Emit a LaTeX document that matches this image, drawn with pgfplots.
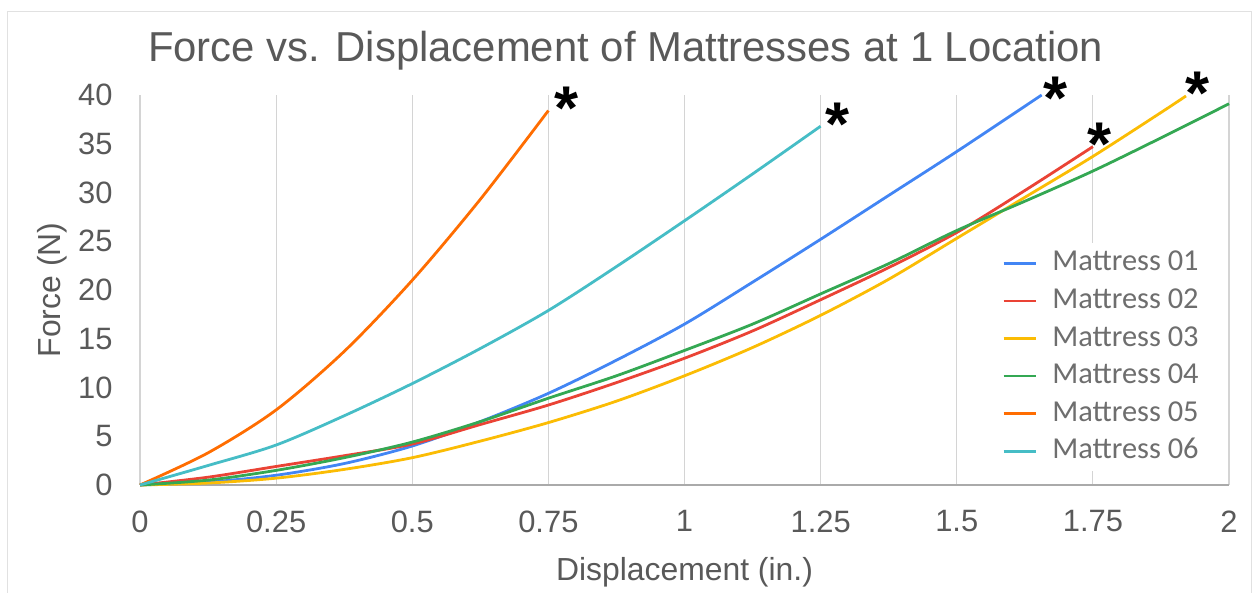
\documentclass[border=0pt]{standalone}
\usepackage{fontspec}
\setmainfont{Liberation Sans}
\newfontfamily\carlito{Carlito}
\usepackage{pgfplots}
\pgfplotsset{compat=1.18}
\usepackage{pgfplotstable}

\definecolor{cblue}{HTML}{4285F4}
\definecolor{cred}{HTML}{EA4335}
\definecolor{cyellow}{HTML}{FBBC04}
\definecolor{cgreen}{HTML}{34A853}
\definecolor{corange}{HTML}{FF6D01}
\definecolor{ccyan}{HTML}{46BDC6}
\definecolor{txt}{HTML}{595959}
\definecolor{legtxt}{HTML}{6E6E6E}
\definecolor{gridc}{HTML}{D4D4D4}

% force (N) against displacement (in.)
\pgfplotstableread{
x y
0 0
0.125 0.3
0.25 1.0
0.375 2.2
0.5 4.0
0.625 6.5
0.75 9.4
0.875 12.8
1.0 16.5
1.125 20.8
1.25 25.2
1.375 29.7
1.5 34.2
1.656 40.0
}\mone
\pgfplotstableread{
x y
0 0
0.125 0.8
0.25 1.9
0.375 3.0
0.5 4.2
0.625 6.2
0.75 8.2
0.875 10.5
1.0 13.0
1.125 15.8
1.25 19.0
1.375 22.3
1.5 25.9
1.625 30.2
1.75 34.7
}\mtwo
\pgfplotstableread{
x y
0 0
0.125 0.2
0.25 0.7
0.375 1.6
0.5 2.8
0.625 4.5
0.75 6.4
0.875 8.6
1.0 11.2
1.125 14.1
1.25 17.4
1.375 21.1
1.5 25.3
1.625 29.5
1.75 33.7
1.875 38.2
1.921 39.9
}\mthree
\pgfplotstableread{
x y
0 0
0.125 0.5
0.25 1.5
0.375 2.8
0.5 4.4
0.625 6.5
0.75 8.9
0.875 11.2
1.0 13.8
1.125 16.5
1.25 19.6
1.375 22.7
1.5 26.1
1.625 29.1
1.75 32.2
1.875 35.6
2.0 39.1
}\mfour
\pgfplotstableread{
x y
0 0
0.125 3.3
0.25 7.7
0.375 13.7
0.5 21.0
0.625 29.3
0.75 38.4
}\mfive
\pgfplotstableread{
x y
0 0
0.125 2.0
0.25 4.1
0.375 7.1
0.5 10.4
0.625 14.0
0.75 17.9
0.875 22.4
1.0 27.1
1.125 31.9
1.25 36.8
}\msix

\begin{document}
\begin{tikzpicture}[x=1bp,y=1bp]
\begin{axis}[
    at={(140bp,108bp)}, anchor=south west,
    scale only axis,
    width=1089bp, height=390bp,
    xmin=0, xmax=2, ymin=0, ymax=40,
    xtick={0,0.25,...,2}, ytick={0,5,...,40},
    axis x line*=bottom, axis y line*=left,
    x axis line style={draw=gridc!80!black, line width=1.2bp},
    y axis line style={draw=none},
    major tick length=0pt,
    xmajorgrids, grid style={draw=gridc, line width=1.2bp},
    /pgf/number format/assume math mode=true,
    tick label style={font=\fontsize{31}{34}\selectfont, text=txt},
    xticklabel shift=22bp, yticklabel shift=24bp,
    title={Force vs. Displacement of Mattresses at 1 Location},
    title style={font=\fontsize{42}{46}\selectfont, text=txt, at={(0.446,1.097)}, anchor=center},
    xlabel={Displacement (in.)},
    xlabel style={font=\fontsize{32}{36}\selectfont, text=txt, at={(0.5,-0.225)}, anchor=center},
    ylabel={Force (N)},
    ylabel style={font=\fontsize{32}{36}\selectfont, text=txt, at={(-0.0808,0.5)}, anchor=center},
    legend image code/.code={\draw[#1, line width=2.6bp] (0bp,0bp) -- (32bp,0bp);},
    legend cell align=left,
    legend style={at={(0.787,0.62)}, anchor=north west, draw=none, fill=white,
        inner sep=5bp, column sep=14bp, row sep=7.6bp,
        font=\carlito\fontsize{30.5}{30.5}\selectfont, text=legtxt,
        nodes={inner sep=1.5bp, text height=21bp, text depth=6bp}},
    every axis plot/.append style={line width=2.8bp, smooth, no marks},
    clip=false,
]
\addplot[cblue] table {\mone};
\addplot[cred] table {\mtwo};
\addplot[cyellow] table {\mthree};
\addplot[cgreen] table {\mfour};
\addplot[corange] table {\mfive};
\addplot[ccyan] table {\msix};
\legend{Mattress 01, Mattress 02, Mattress 03, Mattress 04, Mattress 05, Mattress 06}

% asterisks at the ends of the cut-off curves
\tikzset{star/.style={font=\bfseries\fontsize{62}{62}\selectfont, inner sep=0pt, anchor=base}}
\node[star, xshift=18bp, yshift=-19bp] at (axis cs:0.75,38.4) {*};
\node[star, xshift=17bp, yshift=-19bp] at (axis cs:1.25,36.8) {*};
\node[star, xshift=14bp, yshift=-25bp] at (axis cs:1.656,40.0) {*};
\node[star, xshift=7bp, yshift=-19bp] at (axis cs:1.75,34.7) {*};
\node[star, xshift=12bp, yshift=-19bp] at (axis cs:1.921,39.9) {*};
\end{axis}
\draw[gridc!70, line width=1bp] (7,-5) -- (7,581) -- (1251,581) -- (1251,-5);
\pgfresetboundingbox
\path (0,0) rectangle (1253,593);
\end{tikzpicture}
\end{document}
